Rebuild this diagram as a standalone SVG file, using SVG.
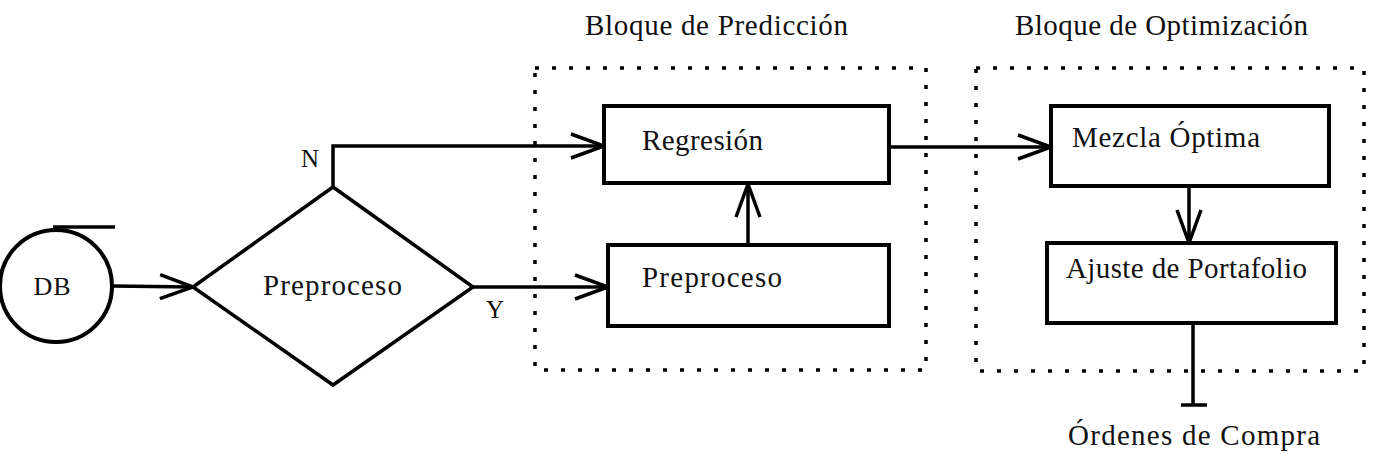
<svg xmlns="http://www.w3.org/2000/svg" width="1373" height="462" viewBox="0 0 1373 462">
<defs>
<style>
.t{font-family:"Liberation Serif","Times New Roman",serif;font-size:29px;fill:#111}
.s{font-family:"Liberation Serif","Times New Roman",serif;font-size:25px;fill:#111}
.box{fill:#fff;stroke:#000;stroke-width:4}
.dot{fill:none;stroke:#000;stroke-width:3.5;stroke-dasharray:4 13}
.c{fill:none;stroke:#000;stroke-width:3.5}
</style>
<marker id="ah" markerUnits="userSpaceOnUse" markerWidth="40" markerHeight="30" refX="0" refY="0" viewBox="-36 -15 40 30" orient="auto" overflow="visible">
<path d="M-33,-12 L0,0 L-33,12" fill="none" stroke="#000" stroke-width="3.5"/>
</marker>
</defs>
<rect width="1373" height="462" fill="#fff"/>

<g id="grupo-prediccion">
<rect class="dot" x="535" y="68" width="391" height="302"/>
<text class="t" x="585" y="35" textLength="263" lengthAdjust="spacing">Bloque de Predicción</text>
</g>
<g id="grupo-optimizacion">
<rect class="dot" x="976" y="68" width="388" height="303"/>
<text class="t" x="1015" y="35" textLength="293" lengthAdjust="spacing">Bloque de Optimización</text>
</g>

<g id="connectors">
<path class="c" d="M112,286 L193,287" marker-end="url(#ah)"/>
<path class="c" d="M333,187 L333,146 L604,146" marker-end="url(#ah)"/>
<path class="c" d="M473,287 L608,287" marker-end="url(#ah)"/>
<path class="c" d="M748,245 L748,184" marker-end="url(#ah)"/>
<path class="c" d="M889,147 L1051,147" marker-end="url(#ah)"/>
<path class="c" d="M1189,186 L1189,243" marker-end="url(#ah)"/>
<path class="c" d="M1193,323 L1193,405 M1181,405 L1207,405"/>
<text class="s" x="310" y="167" text-anchor="middle">N</text>
<text class="s" x="495" y="318" text-anchor="middle">Y</text>
</g>

<g id="db">
<circle cx="56" cy="286" r="56" fill="#fff" stroke="#000" stroke-width="4"/>
<path d="M53,227 L115,227" stroke="#000" stroke-width="3.5"/>
<text class="t" x="52" y="295" font-size="26" text-anchor="middle" textLength="37" lengthAdjust="spacing" style="font-size:26px">DB</text>
</g>

<g id="decision">
<path d="M193,287 L333,187 L473,287 L333,385 Z" fill="#fff" stroke="#000" stroke-width="3.5"/>
<text class="t" x="263" y="295" textLength="139" lengthAdjust="spacing">Preproceso</text>
</g>

<g id="regresion">
<rect class="box" x="604" y="106" width="285" height="77"/>
<text class="t" x="642" y="150" textLength="121" lengthAdjust="spacing">Regresión</text>
</g>

<g id="preproceso">
<rect class="box" x="608" y="245" width="281" height="81"/>
<text class="t" x="642" y="287" textLength="140" lengthAdjust="spacing">Preproceso</text>
</g>

<g id="mezcla">
<rect class="box" x="1051" y="106" width="278" height="80"/>
<text class="t" x="1072" y="147" textLength="188" lengthAdjust="spacing">Mezcla Óptima</text>
</g>

<g id="ajuste">
<rect class="box" x="1047" y="243" width="289" height="80"/>
<text class="t" x="1066" y="278" textLength="241" lengthAdjust="spacing">Ajuste de Portafolio</text>
</g>

<g id="ordenes">
<text class="t" x="1068" y="445" textLength="252" lengthAdjust="spacing">Órdenes de Compra</text>
</g>
</svg>
